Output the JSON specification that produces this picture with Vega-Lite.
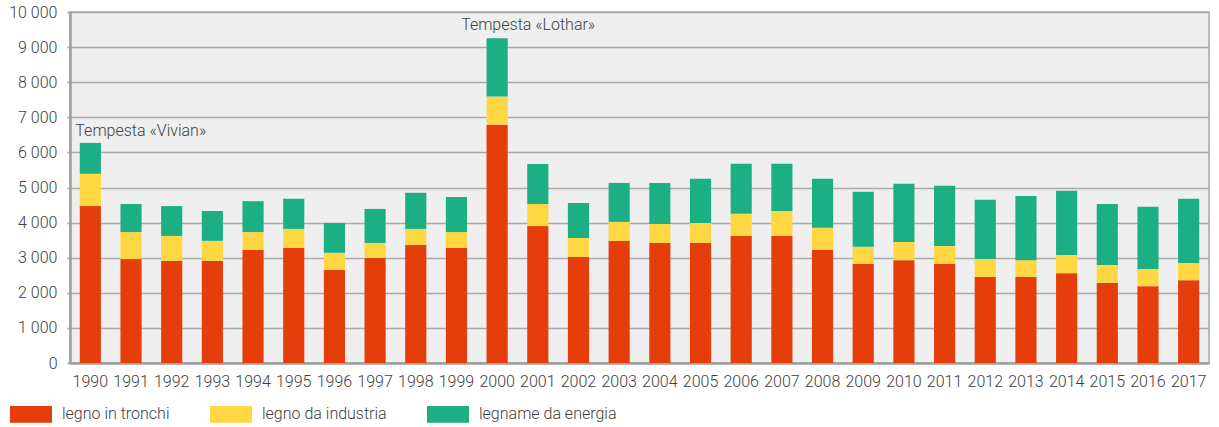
{
  "$schema": "https://vega.github.io/schema/vega-lite/v6.json",
  "width": 1139,
  "height": 351,
  "autosize": {"type": "none"},
  "padding": {"left": 70, "top": 12, "right": 10, "bottom": 64},
  "background": "white",
  "config": {
    "view": {"fill": "#efefef", "stroke": "#a6a6a6", "strokeWidth": 1.5},
    "font": "Roboto",
    "axisY": {
      "title": null,
      "grid": true, "gridColor": "#aaaaaa", "gridWidth": 1.5,
      "domainColor": "#a0a0a0", "domainWidth": 2.5,
      "tickColor": "#a0a0a0", "tickSize": 3, "tickWidth": 1.5,
      "labelPadding": 10, "labelFontSize": 16, "labelFont": "Roboto",
      "labelFontWeight": 300, "labelColor": "#404040", "labelOverlap": false
    },
    "axisX": {
      "title": null, "labelAngle": 0, "ticks": false,
      "domainColor": "#a0a0a0", "domainWidth": 2.5,
      "labelPadding": 10, "labelFontSize": 16, "labelFont": "Roboto",
      "labelFontWeight": 300, "labelColor": "#404040", "labelOverlap": false
    }
  },
  "datasets": {
    "legno": [
      {"anno": "1990", "legno in tronchi": 4470, "legno da industria": 920, "legname da energia": 880},
      {"anno": "1991", "legno in tronchi": 2960, "legno da industria": 770, "legname da energia": 800},
      {"anno": "1992", "legno in tronchi": 2910, "legno da industria": 710, "legname da energia": 850},
      {"anno": "1993", "legno in tronchi": 2910, "legno da industria": 570, "legname da energia": 850},
      {"anno": "1994", "legno in tronchi": 3220, "legno da industria": 510, "legname da energia": 880},
      {"anno": "1995", "legno in tronchi": 3280, "legno da industria": 540, "legname da energia": 860},
      {"anno": "1996", "legno in tronchi": 2650, "legno da industria": 490, "legname da energia": 850},
      {"anno": "1997", "legno in tronchi": 2990, "legno da industria": 430, "legname da energia": 970},
      {"anno": "1998", "legno in tronchi": 3360, "legno da industria": 460, "legname da energia": 1030},
      {"anno": "1999", "legno in tronchi": 3280, "legno da industria": 450, "legname da energia": 1000},
      {"anno": "2000", "legno in tronchi": 6790, "legno da industria": 800, "legname da energia": 1660},
      {"anno": "2001", "legno in tronchi": 3900, "legno da industria": 630, "legname da energia": 1140},
      {"anno": "2002", "legno in tronchi": 3020, "legno da industria": 540, "legname da energia": 1000},
      {"anno": "2003", "legno in tronchi": 3480, "legno da industria": 540, "legname da energia": 1110},
      {"anno": "2004", "legno in tronchi": 3420, "legno da industria": 540, "legname da energia": 1170},
      {"anno": "2005", "legno in tronchi": 3420, "legno da industria": 570, "legname da energia": 1260},
      {"anno": "2006", "legno in tronchi": 3620, "legno da industria": 630, "legname da energia": 1430},
      {"anno": "2007", "legno in tronchi": 3620, "legno da industria": 710, "legname da energia": 1350},
      {"anno": "2008", "legno in tronchi": 3220, "legno da industria": 630, "legname da energia": 1400},
      {"anno": "2009", "legno in tronchi": 2820, "legno da industria": 490, "legname da energia": 1570},
      {"anno": "2010", "legno in tronchi": 2930, "legno da industria": 520, "legname da energia": 1660},
      {"anno": "2011", "legno in tronchi": 2820, "legno da industria": 510, "legname da energia": 1720},
      {"anno": "2012", "legno in tronchi": 2450, "legno da industria": 510, "legname da energia": 1690},
      {"anno": "2013", "legno in tronchi": 2450, "legno da industria": 480, "legname da energia": 1830},
      {"anno": "2014", "legno in tronchi": 2560, "legno da industria": 520, "legname da energia": 1830},
      {"anno": "2015", "legno in tronchi": 2280, "legno da industria": 510, "legname da energia": 1740},
      {"anno": "2016", "legno in tronchi": 2190, "legno da industria": 490, "legname da energia": 1770},
      {"anno": "2017", "legno in tronchi": 2360, "legno da industria": 490, "legname da energia": 1830}
    ],
    "note": [
      {"anno": "1990", "totale": 6270, "nota": "Tempesta «Vivian»", "id": "v"},
      {"anno": "2000", "totale": 9250, "nota": "Tempesta «Lothar»", "id": "l"}
    ]
  },
  "layer": [
    {
      "data": {"name": "legno"},
      "transform": [
        {"fold": ["legno in tronchi", "legno da industria", "legname da energia"], "as": ["tipo", "valore"]}
      ],
      "mark": {"type": "bar"},
      "encoding": {
        "x": {
          "field": "anno", "type": "ordinal",
          "scale": {"paddingInner": 0.48, "paddingOuter": 0.24}
        },
        "y": {
          "field": "valore", "type": "quantitative", "stack": "zero",
          "scale": {"domain": [0, 10000], "nice": false},
          "axis": {
            "values": [0, 1000, 2000, 3000, 4000, 5000, 6000, 7000, 8000, 9000, 10000],
            "labelExpr": "replace(format(datum.value, ','), ',', ' ')"
          }
        },
        "color": {
          "field": "tipo", "type": "nominal",
          "scale": {
            "domain": ["legno in tronchi", "legno da industria", "legname da energia"],
            "range": ["#e63e0a", "#ffd743", "#1daf84"]
          },
          "legend": {
            "orient": "none", "legendX": -60, "legendY": 381, "padding": 0,
            "direction": "horizontal", "title": null,
            "symbolType": "M-1,-0.4H1V0.4H-1Z", "symbolSize": 1764,
            "symbolStrokeWidth": 0, "symbolOpacity": 1,
            "labelFontSize": 16, "labelFont": "Roboto", "labelFontWeight": 300,
            "labelColor": "#404040", "columnPadding": 40, "labelOffset": 10
          }
        },
        "order": {"field": "tipo", "sort": "descending"}
      }
    },
    {
      "data": {"name": "note"},
      "transform": [{"filter": "datum.id == 'v'"}],
      "mark": {"type": "text", "align": "left", "baseline": "alphabetic", "dx": -15, "dy": -7, "fontSize": 16, "font": "Roboto", "fontWeight": 300, "color": "#404040"},
      "encoding": {
        "x": {"field": "anno", "type": "ordinal"},
        "y": {
          "field": "totale", "type": "quantitative",
          "axis": {
            "values": [0, 1000, 2000, 3000, 4000, 5000, 6000, 7000, 8000, 9000, 10000],
            "labelExpr": "replace(format(datum.value, ','), ',', ' ')"
          }
        },
        "text": {"field": "nota"}
      }
    },
    {
      "data": {"name": "note"},
      "transform": [{"filter": "datum.id == 'l'"}],
      "mark": {"type": "text", "align": "left", "baseline": "alphabetic", "dx": -36, "dy": -8, "fontSize": 16, "font": "Roboto", "fontWeight": 300, "color": "#404040"},
      "encoding": {
        "x": {"field": "anno", "type": "ordinal"},
        "y": {
          "field": "totale", "type": "quantitative",
          "axis": {
            "values": [0, 1000, 2000, 3000, 4000, 5000, 6000, 7000, 8000, 9000, 10000],
            "labelExpr": "replace(format(datum.value, ','), ',', ' ')"
          }
        },
        "text": {"field": "nota"}
      }
    }
  ]
}
